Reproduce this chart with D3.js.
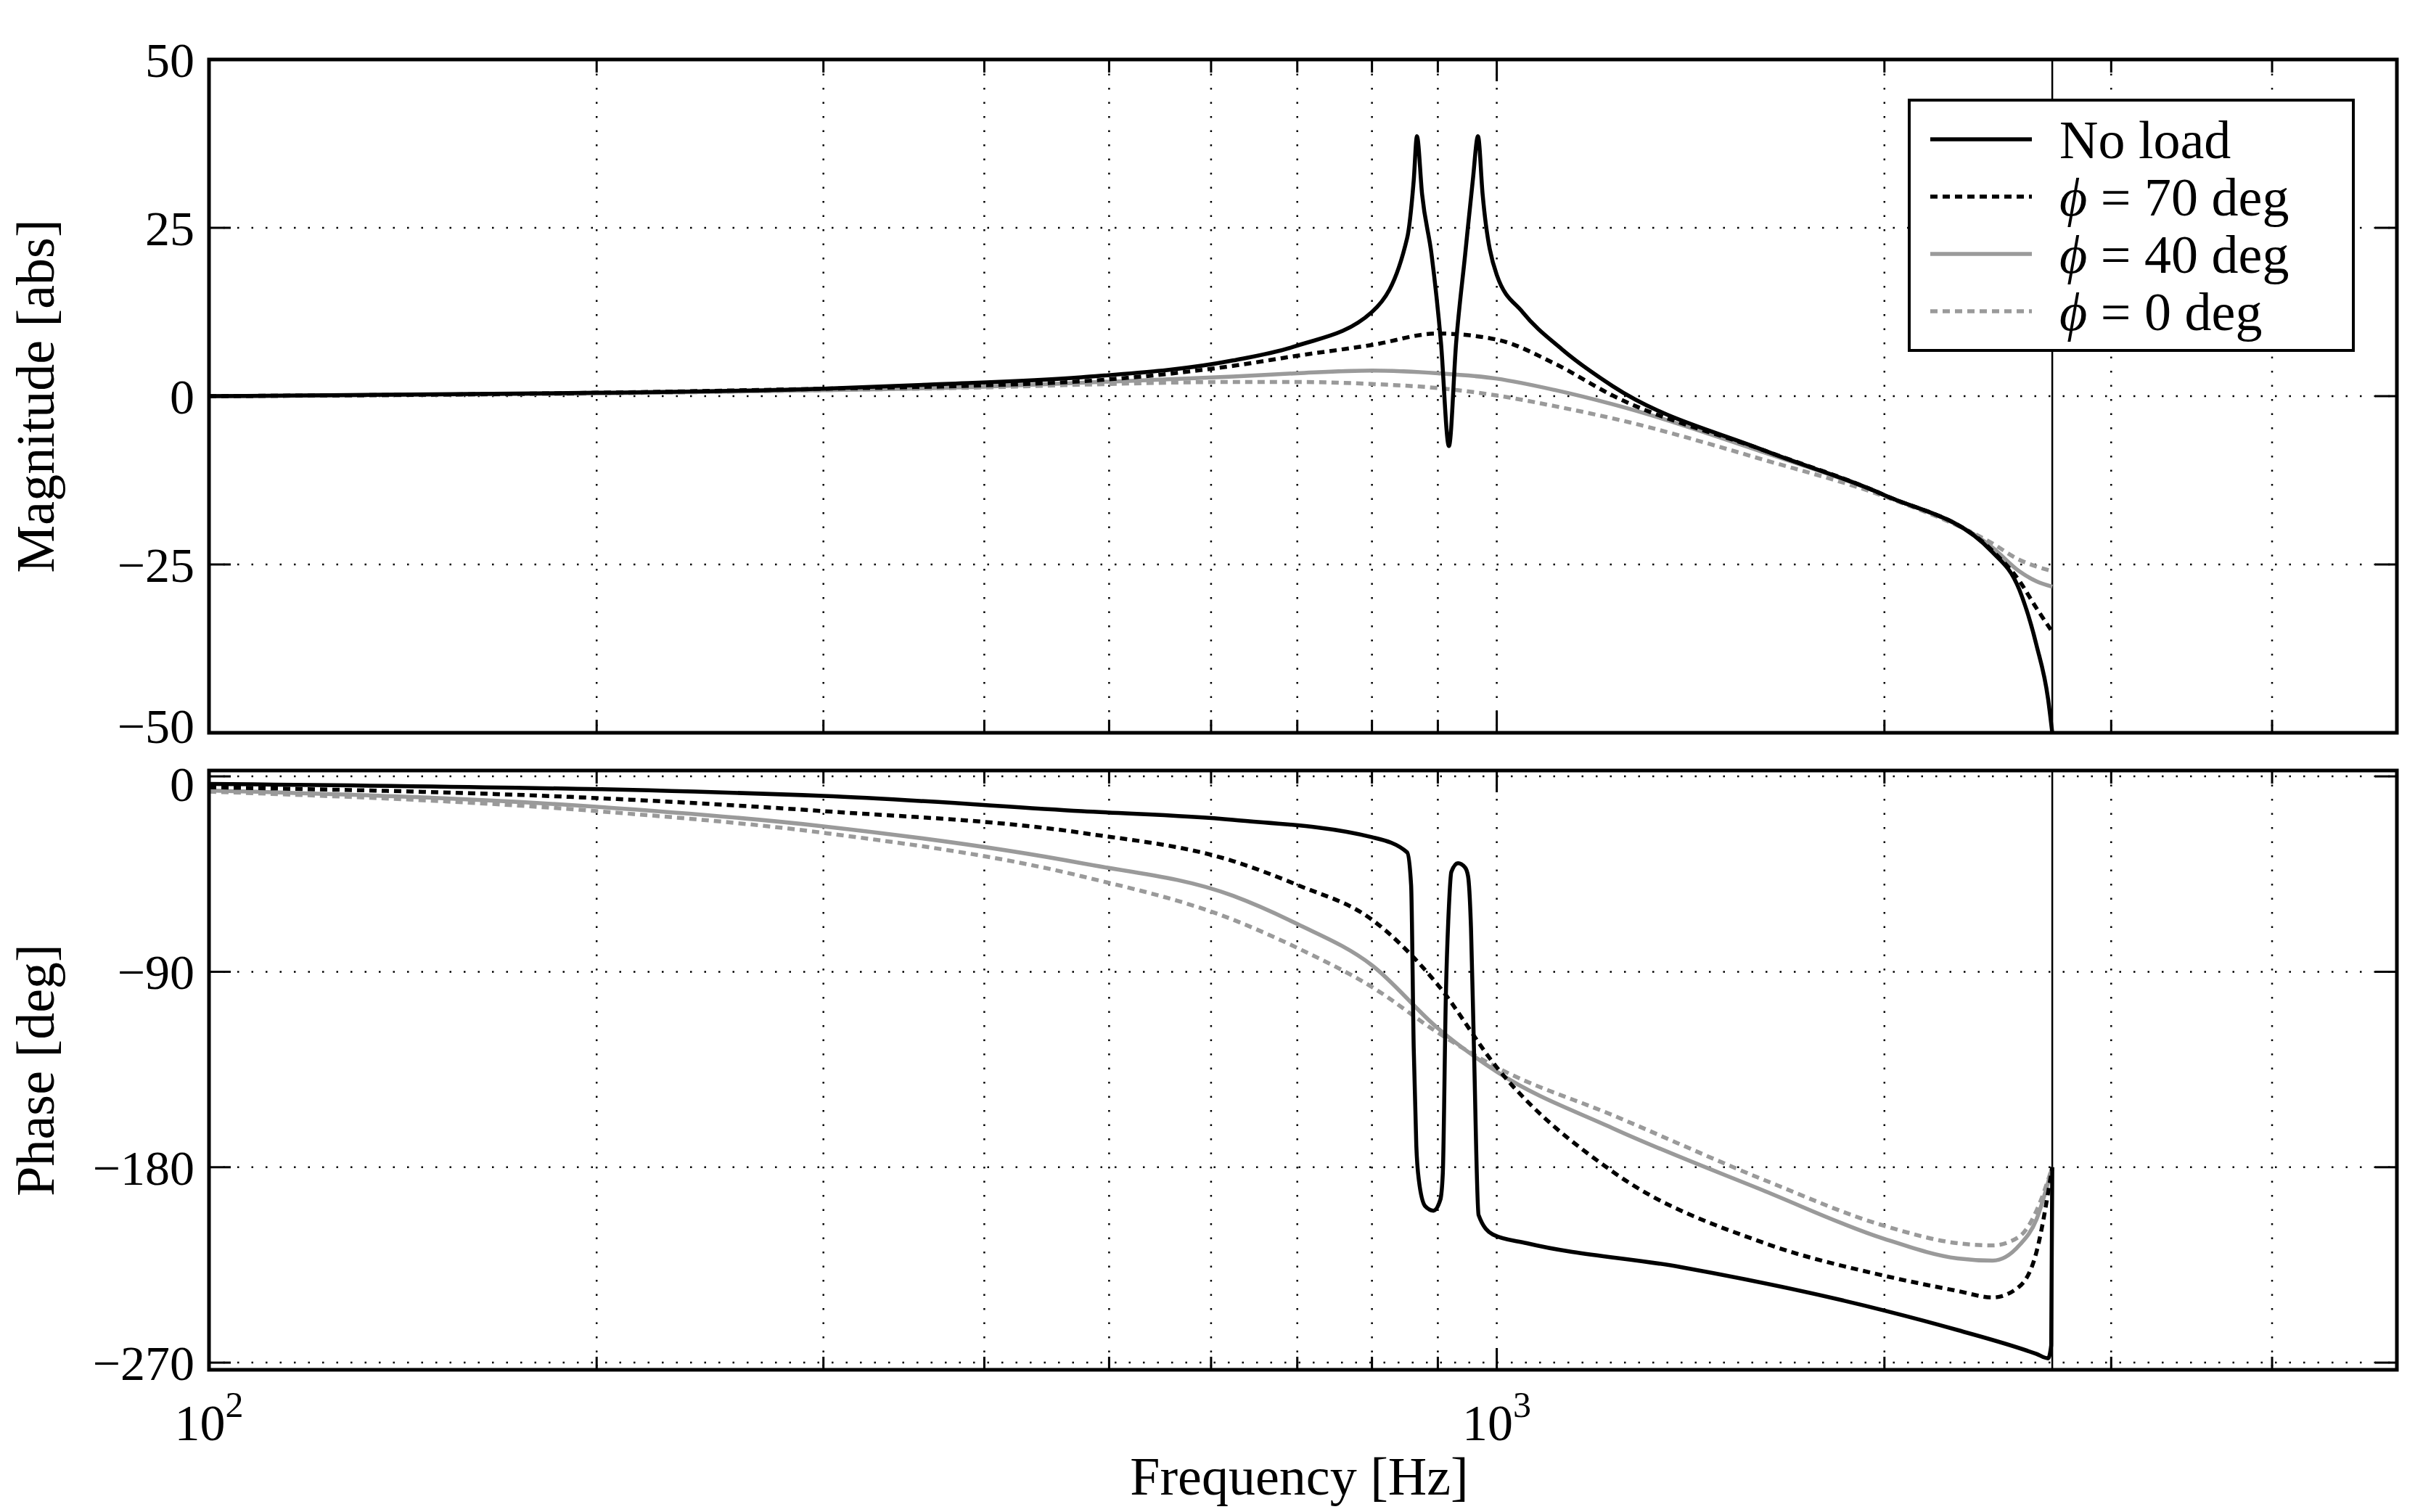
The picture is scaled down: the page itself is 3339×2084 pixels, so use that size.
<!DOCTYPE html>
<html><head><meta charset="utf-8">
<script src="https://cdn.jsdelivr.net/npm/d3@7"></script>
<style>body{margin:0;background:#fff}text{font-family:"Liberation Serif",serif;fill:#000}</style>
</head><body><svg id="chart" width="3339" height="2084"></svg>
<script>
// Frequency [Hz] and values per curve.
const magNoLoadF = [100,200,300,361,476,624,700,800,852,862,867,875,890,905,918,930,945,958,967,975,1000,1047,1123,1230,1615,2000,2427,2545,2625,2680,2700];
const magNoLoad  = [0,0.5,1.1,1.7,2.8,5.3,7.5,12.5,23.5,32,38.6,30,21,8,-7.4,8,21,32,38.6,30,18,12.5,7,1.5,-8.1,-14.7,-23.2,-28.7,-37,-45,-50];
const magF = [100,200,300,400,476,624,700,800,900,1000,1110,1230,1615,2000,2427,2545,2625,2700];
const mag70 = [0,0.5,1.1,1.6,2.2,4.5,6,7.6,9.3,8.4,4.8,0.1,-8.1,-14.7,-23,-27.4,-31.5,-35];
const mag40 = [0,0.4,0.9,1.4,2,2.9,3.4,3.8,3.4,2.6,0.9,-1.2,-8.4,-14.7,-22.5,-26,-27.5,-28.3];
const mag0  = [0,0.4,0.9,1.3,1.7,2.1,2.1,1.8,1.2,0.1,-1.5,-3.3,-9.5,-14.9,-21.9,-24.3,-25.3,-26];

const phNoLoadF = [100,300,476,624,800,852,858,862,866,870,880,893,904,908,913,918,922,933,945,950,955,960,968,993,1055,1390,2000,2280,2625,2680,2695,2700];
const phNoLoad  = [-3.5,-9,-16,-20,-28,-35,-50,-125,-170,-186,-198,-200,-195,-183,-101,-60,-44,-40,-42,-46,-70,-125,-202,-211,-215,-226,-246,-255,-266,-268,-262,-180];
const phF = [100,200,300,476,624,700,800,900,1000,1230,1615,2000,2280,2427,2545,2625,2700];
const ph70 = [-5,-10,-16,-26,-39,-50,-66,-96,-134,-182,-215,-230,-237,-240,-235,-219,-180];
const ph40 = [-6.5,-14,-23,-40,-55,-68,-87,-116,-136,-162,-191,-213,-222,-223,-216,-204,-180];
const ph0  = [-7,-16,-26,-46,-66,-79,-97,-118,-134,-156,-186,-207,-215,-216,-212,-200,-180];

const series = [
  {label: "No load", color: "#000", dash: null},
  {label: "70", color: "#000", dash: "10,7"},
  {label: "40", color: "#9a9a9a", dash: null},
  {label: "0", color: "#9a9a9a", dash: "10,7"}
];
const magData = [[magNoLoadF, magNoLoad],[magF, mag70],[magF, mag40],[magF, mag0]];
const phData = [[phNoLoadF, phNoLoad],[phF, ph70],[phF, ph40],[phF, ph0]];
const magTicks = [-50,-25,0,25,50];
const phTicks = [-270,-180,-90,0];
const gridF = [200,300,400,500,600,700,800,900,1000,2000,3000,4000];
const cutoffF = 2700;

const svg = d3.select("#chart");
const L = 288, R = 3303;
const x = d3.scaleLog().domain([100, 5000]).range([L, R]);
const panels = [
  {top: 82, bottom: 1010, domain: [-50, 50], ticks: magTicks, data: magData, label: "Magnitude [abs]"},
  {top: 1062, bottom: 1888, domain: [-273.3, 2.7], ticks: phTicks, data: phData, label: "Phase [deg]"}
];

panels.forEach((p, pi) => {
  const y = d3.scaleLinear().domain(p.domain).range([p.bottom, p.top]);
  const g = svg.append("g");
  // grid
  g.selectAll(".gx").data(gridF).join("line")
    .attr("x1", d => x(d)).attr("x2", d => x(d)).attr("y1", p.top).attr("y2", p.bottom)
    .attr("stroke", "#000").attr("stroke-width", 2.5).attr("stroke-dasharray", "2.5,17");
  g.selectAll(".gy").data(p.ticks).join("line")
    .attr("x1", L).attr("x2", R).attr("y1", d => y(d)).attr("y2", d => y(d))
    .attr("stroke", "#000").attr("stroke-width", 2.5).attr("stroke-dasharray", "2.5,17");
  // ticks inside
  const tl = 30;
  gridF.concat([100]).forEach(f => {
    const len = (f === 100 || f === 1000) ? tl : tl * 0.6;
    g.append("line").attr("x1", x(f)).attr("x2", x(f)).attr("y1", p.bottom).attr("y2", p.bottom - len).attr("stroke", "#000").attr("stroke-width", 3);
    g.append("line").attr("x1", x(f)).attr("x2", x(f)).attr("y1", p.top).attr("y2", p.top + len).attr("stroke", "#000").attr("stroke-width", 3);
  });
  p.ticks.forEach(t => {
    g.append("line").attr("x1", L).attr("x2", L + tl).attr("y1", y(t)).attr("y2", y(t)).attr("stroke", "#000").attr("stroke-width", 3);
    g.append("line").attr("x1", R).attr("x2", R - tl).attr("y1", y(t)).attr("y2", y(t)).attr("stroke", "#000").attr("stroke-width", 3);
    // keep the -50 and the phase 0 labels apart
    const dy = (pi === 0 && t === -50) ? "0.2em" : (pi === 1 && t === 0) ? "0.5em" : "0.35em";
    g.append("text").attr("x", L - 20).attr("y", y(t)).attr("dy", dy).attr("text-anchor", "end")
      .attr("font-size", 68).text(t < 0 ? "\u2212" + Math.abs(t) : t);
  });
  // cutoff line
  g.append("line").attr("x1", x(cutoffF)).attr("x2", x(cutoffF)).attr("y1", p.top).attr("y2", p.bottom)
    .attr("stroke", "#000").attr("stroke-width", 2.5);
  // curves
  const line = d3.line().x(d => x(d[0])).y(d => y(d[1])).curve(d3.curveMonotoneX);
  [3, 2, 1, 0].forEach(i => {
    const [fs, vs] = p.data[i];
    g.append("path").datum(fs.map((f, k) => [f, vs[k]]))
      .attr("d", line).attr("fill", "none").attr("stroke", series[i].color)
      .attr("stroke-width", 5.5).attr("stroke-dasharray", series[i].dash);
  });
  // frame
  g.append("rect").attr("x", L).attr("y", p.top).attr("width", R - L).attr("height", p.bottom - p.top)
    .attr("fill", "none").attr("stroke", "#000").attr("stroke-width", 5);
  // y label
  g.append("text").attr("transform", `translate(74,${(p.top + p.bottom) / 2}) rotate(-90)`)
    .attr("text-anchor", "middle").attr("font-size", 74).text(p.label);
});

// x tick labels (bottom panel)
[[100, 2], [1000, 3]].forEach(([f, e]) => {
  const t = svg.append("text").attr("x", x(f)).attr("y", 1985).attr("text-anchor", "middle").attr("font-size", 70);
  t.append("tspan").text("10");
  t.append("tspan").attr("dy", -32).attr("font-size", 50).text(e);
});
svg.append("text").attr("x", (L + R) / 2 - 5).attr("y", 2060).attr("text-anchor", "middle")
  .attr("font-size", 74).text("Frequency [Hz]");

// legend
const lg = svg.append("g");
lg.append("rect").attr("x", 2631).attr("y", 138).attr("width", 612).attr("height", 345)
  .attr("fill", "#fff").attr("stroke", "#000").attr("stroke-width", 4);
series.forEach((s, i) => {
  const yy = 192 + i * 79;
  lg.append("line").attr("x1", 2660).attr("x2", 2800).attr("y1", yy).attr("y2", yy)
    .attr("stroke", s.color).attr("stroke-width", 5.5).attr("stroke-dasharray", s.dash);
  const t = lg.append("text").attr("x", 2838).attr("y", yy).attr("dy", "0.35em").attr("font-size", 74);
  if (i === 0) t.text(s.label);
  else {
    t.append("tspan").attr("font-style", "italic").text("\u03D5");
    t.append("tspan").text(" = " + s.label + " deg");
  }
});
</script></body></html>
